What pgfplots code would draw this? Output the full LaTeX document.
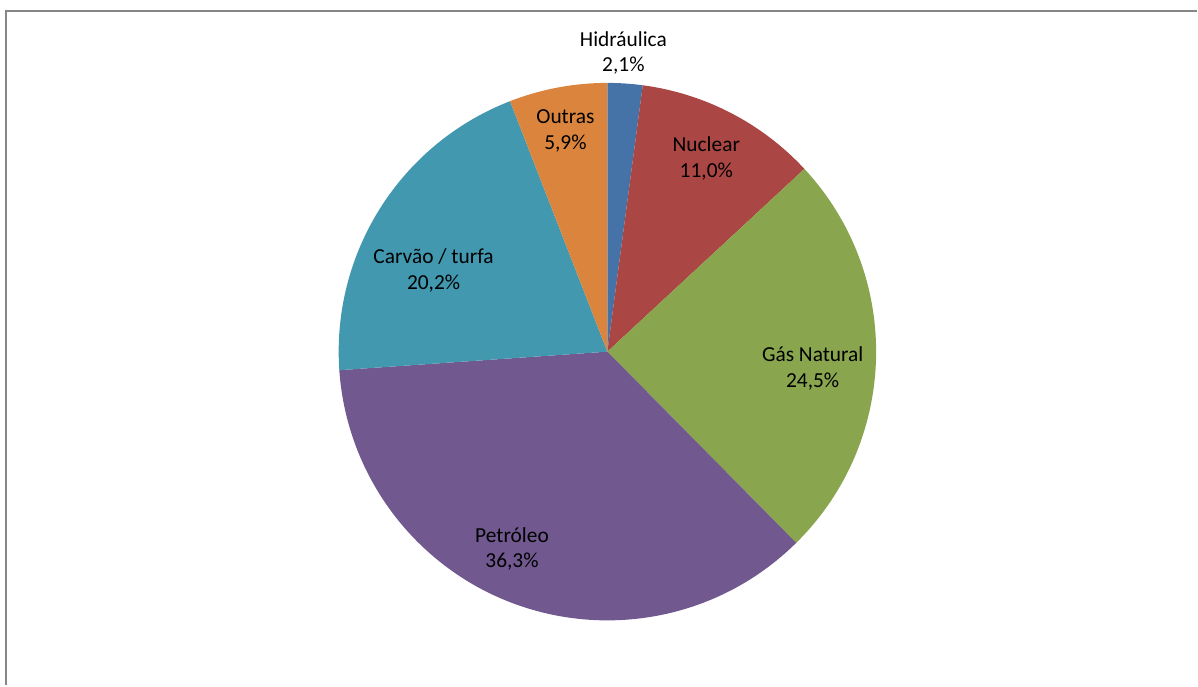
\documentclass[border=0pt]{standalone}
\usepackage{fontspec}
\setmainfont{Carlito}
\usepackage{pgfplots}
\pgfplotsset{compat=1.18}
\definecolor{cHid}{HTML}{4572A7}
\definecolor{cNuc}{HTML}{AA4643}
\definecolor{cGas}{HTML}{89A54E}
\definecolor{cPet}{HTML}{71588F}
\definecolor{cCar}{HTML}{4198AF}
\definecolor{cOut}{HTML}{DB843D}
\definecolor{frame}{HTML}{868686}
\begin{document}
\begin{tikzpicture}
\begin{axis}[
  x=0.5bp, y=0.5bp,
  xmin=0, xmax=1198, ymin=0, ymax=686,
  hide axis, clip=false,
]
\path (axis cs:0,0) rectangle (axis cs:1198,686);
% share of each source (%), clockwise from 12 o'clock
\def\start{90}
\foreach \v/\c in {2.1/cHid, 11.0/cNuc, 24.5/cGas, 36.3/cPet, 20.2/cCar, 5.9/cOut}{
  \pgfmathsetmacro\endang{\start-3.6*\v}
  \pgfmathsetmacro\sx{608+269*cos(\start)}
  \pgfmathsetmacro\sy{334+269*sin(\start)}
  \edef\temp{\noexpand\fill[\c] (axis cs:608,334) -- (axis cs:\sx,\sy) arc[start angle=\start, end angle=\endang, radius=269] -- cycle;}
  \temp
  \global\let\start\endang
}
\draw[frame, line width=1.2bp] (axis cs:6,0) -- (axis cs:6,675) -- (axis cs:1198,675);
\tikzset{lab/.style={align=center, font=\fontsize{10.7bp}{13bp}\selectfont, inner sep=0pt}}
\node[lab] at (axis cs:624,633) {Hidráulica\\2,1\%};
\node[lab] at (axis cs:707,527.5) {Nuclear\\11,0\%};
\node[lab] at (axis cs:813.5,317) {Gás Natural\\24,5\%};
\node[lab] at (axis cs:512.5,136.5) {Petróleo\\36,3\%};
\node[lab] at (axis cs:434,415.5) {Carvão / turfa\\20,2\%};
\node[lab] at (axis cs:566,555) {Outras\\5,9\%};
\end{axis}
\end{tikzpicture}
\end{document}
